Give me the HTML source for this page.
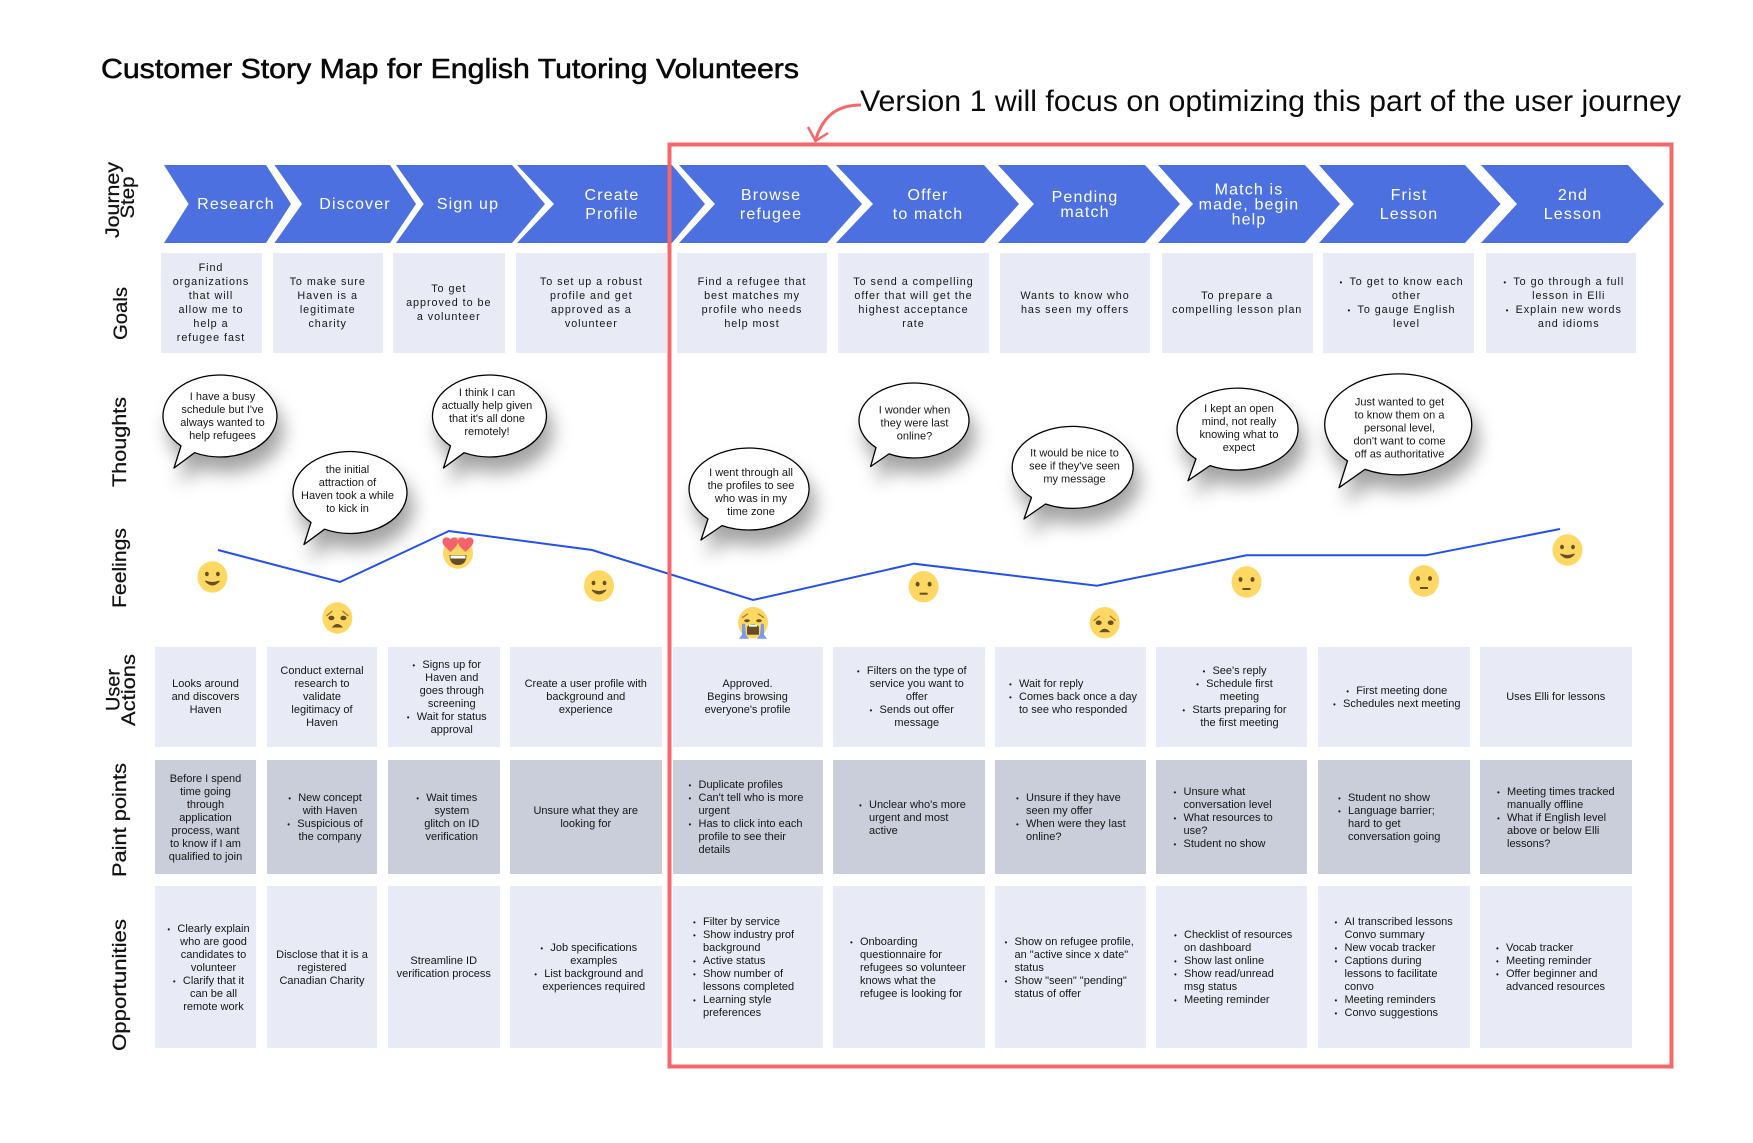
<!DOCTYPE html>
<html><head><meta charset="utf-8"><title>Customer Story Map</title>
<style>
html,body{margin:0;padding:0;background:#fff;width:1753px;height:1143px;overflow:hidden}
body{position:relative;font-family:"Liberation Sans",sans-serif;color:#161616}
svg{position:absolute;left:0;top:0}
.c{position:absolute;display:flex;align-items:center;justify-content:center;text-align:center;font-size:11px;line-height:13px;white-space:nowrap;box-sizing:border-box;padding-top:2px}
.goal{top:253px;height:100px;background:#e8eaf6;line-height:14px;letter-spacing:.95px;font-size:10.8px;padding-top:0}
.ua{top:647px;height:100px;background:#e8eaf6;padding-top:1px}
.pp{top:760px;height:114px;background:#cacdda}
.op{top:886px;height:162px;background:#e8eaf6}
.a1{left:155px;width:101px}.a2{left:267px;width:110px}.a3{left:388px;width:111.5px}.a4{left:510px;width:151.5px}.a5{left:672.5px;width:150px}.a6{left:833px;width:151.5px}.a7{left:995px;width:150.5px}.a8{left:1156px;width:151px}.a9{left:1318px;width:151.5px}.a10{left:1480px;width:151.5px}
.o{padding-left:16px}
.l{justify-content:flex-start;text-align:left}
u{text-decoration:none;position:relative}
u::before{content:"•";position:absolute;left:-10px;top:0;font-size:8px}
.b{position:absolute;transform:translate(-50%,-50%);text-align:center;font-size:11px;line-height:13px;white-space:nowrap}
.h{position:absolute;transform:translate(-50%,-50%);text-align:center;color:#fff;font-size:16px;letter-spacing:1.15px;white-space:nowrap}
</style></head><body>
<svg width="1753" height="1143" viewBox="0 0 1753 1143" xmlns="http://www.w3.org/2000/svg">
<defs>
<g id="smile"><ellipse rx="15" ry="15.7" fill="#ffd863"/><ellipse cx="-5.5" cy="-3" rx="1.9" ry="2.3" fill="#664e27"/><ellipse cx="5.5" cy="-3" rx="1.9" ry="2.3" fill="#664e27"/><path d="M-7 4Q0 12 7 4Q0 7 -7 4Z" fill="#664e27" stroke="#664e27"/></g>
<g id="neutral"><ellipse rx="15" ry="15.7" fill="#ffd863"/><ellipse cx="-6" cy="-2.5" rx="2" ry="2.4" fill="#664e27"/><ellipse cx="6" cy="-2.5" rx="2" ry="2.4" fill="#664e27"/><rect x="-4" y="6" width="8" height="2" fill="#664e27"/></g>
<g id="sad"><ellipse rx="15" ry="15.7" fill="#ffd863"/><ellipse cx="-6" cy="0" rx="3" ry="2.3" fill="#664e27"/><ellipse cx="6" cy="0" rx="3" ry="2.3" fill="#664e27"/><path d="M-11 -2L-5 -7M11 -2L5 -7" stroke="#a07a2c" stroke-width="1.3" fill="none"/><path d="M-4.5 9Q0 4 4.5 9Z" fill="#664e27" stroke="#664e27"/></g>
<g id="love"><ellipse rx="15" ry="15.7" fill="#ffd863"/><path d="M-7.5 -1C-14 -7 -15.5 -9 -15.5 -11.5C-15.5 -16 -10 -17 -7.5 -13.5C-5 -17 0 -16 0 -11.5C0 -9 -1 -7 -7.5 -1Z" fill="#f4626c"/><path d="M7.5 -1C1 -7 0 -9 0 -11.5C0 -16 5 -17 7.5 -13.5C10 -17 15.5 -16 15.5 -11.5C15.5 -9 14 -7 7.5 -1Z" fill="#f4626c"/><path d="M-8.5 2H8.5Q8.5 12 0 12Q-8.5 12 -8.5 2Z" fill="#664e27"/><rect x="-7.5" y="2.5" width="15" height="3" fill="#fff"/></g>
<g id="cry"><ellipse rx="15" ry="15.7" fill="#ffd863"/><ellipse cx="-6" cy="-2" rx="2.8" ry="1.5" fill="#664e27"/><ellipse cx="6" cy="-2" rx="2.8" ry="1.5" fill="#664e27"/><path d="M-11 -5L-5 -9M11 -5L5 -9" stroke="#a07a2c" stroke-width="1.2" fill="none"/><path d="M-6 12V4Q0 -1 6 4V12Z" fill="#664e27"/><rect x="-4" y="2" width="8" height="2" fill="#fff"/><path d="M-8 1H-11V12L-14 16H-4L-7 12Z M8 1H11V12L14 16H4L7 12Z" fill="#7c9ae8"/></g>
<filter id="sh" x="-30%" y="-30%" width="170%" height="190%"><feDropShadow dx="6" dy="15" stdDeviation="9" flood-color="#000" flood-opacity=".36"/></filter>
</defs>
<text x="101" y="78" font-family="Liberation Sans" font-size="28" fill="#0a0a0a" stroke="#0a0a0a" stroke-width=".55" textLength="698" lengthAdjust="spacingAndGlyphs">Customer Story Map for English Tutoring Volunteers</text>
<text x="860" y="111" font-family="Liberation Sans" font-size="30" fill="#0a0a0a" textLength="821" lengthAdjust="spacingAndGlyphs">Version 1 will focus on optimizing this part of the user journey</text>
<g fill="#4c70e0">
<polygon points="164,165 266,165 291,204 266,243 164,243 188.6,204"/>
<polygon points="274.4,165 390,165 416,204 390,243 274.4,243 302,204"/>
<polygon points="396,165 512,165 545,204 512,243 396,243 423.7,204"/>
<polygon points="517,165 672,165 705,204 672,243 517,243 554,204"/>
<polygon points="679,165 827,165 862,204 827,243 679,243 715,204"/>
<polygon points="836,165 984,165 1019,204 984,243 836,243 873,204"/>
<polygon points="998,165 1145,165 1180,204 1145,243 998,243 1034,204"/>
<polygon points="1158,165 1305,165 1340,204 1305,243 1158,243 1193,204"/>
<polygon points="1319,165 1465,165 1500.6,204 1465,243 1319,243 1354,204"/>
<polygon points="1481,165 1628,165 1664,204 1628,243 1481,243 1517,204"/>
</g>
<g font-family="Liberation Sans" font-size="19.5" fill="#111" stroke="#111" stroke-width=".25" text-anchor="middle">
<text transform="translate(119 200) rotate(-90)" textLength="76" lengthAdjust="spacingAndGlyphs">Journey</text>
<text transform="translate(134 197.5) rotate(-90)" textLength="42" lengthAdjust="spacingAndGlyphs">Step</text>
<text transform="translate(127 313.5) rotate(-90)" textLength="53" lengthAdjust="spacingAndGlyphs">Goals</text>
<text transform="translate(126 442) rotate(-90)" textLength="90" lengthAdjust="spacingAndGlyphs">Thoughts</text>
<text transform="translate(126 568) rotate(-90)" textLength="80" lengthAdjust="spacingAndGlyphs">Feelings</text>
<text transform="translate(119.5 690) rotate(-90)" textLength="42" lengthAdjust="spacingAndGlyphs">User</text>
<text transform="translate(135 690) rotate(-90)" textLength="72" lengthAdjust="spacingAndGlyphs">Actions</text>
<text transform="translate(126 820) rotate(-90)" textLength="114" lengthAdjust="spacingAndGlyphs">Paint points</text>
<text transform="translate(126 985) rotate(-90)" textLength="132" lengthAdjust="spacingAndGlyphs">Opportunities</text>
</g>
<g fill="#fff" stroke="#000" stroke-width="1.3" filter="url(#sh)" stroke-linejoin="round">
<path d="M194.6 452.7A57 41 0 1 0 181 445.9L174 468Z"/>
<path d="M324.6 529.2A57 41 0 1 0 311 522.4L304 544.5Z"/>
<path d="M464.1 452.7A57 41 0 1 0 450.5 445.9L443.5 468Z"/>
<path d="M722 525.6A60 41 0 1 0 708 518.9L701 540Z"/>
<path d="M889 453.9A55 37.5 0 1 0 876 447.6L870.6 466.5Z"/>
<path d="M1045.5 504A60.5 41 0 1 0 1031.5 497.4L1024 519Z"/>
<path d="M1210 465.6A60.5 41 0 1 0 1196 458.9L1188 480.7Z"/>
<path d="M1365 469.4A73.5 50.5 0 1 0 1347.5 460.9L1339 487.7Z"/>
</g>
<polyline points="218,550 340,582 449,531 592,550 753,600 914,563.7 1097,585.7 1246.5,555.3 1426,555.3 1560,529" fill="none" stroke="#2350e8" stroke-width="2"/>
<use href="#smile" x="212.4" y="577"/>
<use href="#sad" x="337.4" y="618"/>
<use href="#love" x="458" y="553"/>
<use href="#smile" x="599" y="586"/>
<use href="#cry" x="753" y="622.7"/>
<use href="#neutral" x="923.6" y="586.7"/>
<use href="#sad" x="1104.7" y="622.7"/>
<use href="#neutral" x="1246.5" y="582"/>
<use href="#neutral" x="1424" y="581"/>
<use href="#smile" x="1567.5" y="550"/>
</svg>

<div class="h" style="left:236px;top:205px">Research</div>
<div class="h" style="left:355px;top:205px">Discover</div>
<div class="h" style="left:468px;top:205px">Sign up</div>
<div class="h" style="left:612px;top:204.5px;line-height:19px">Create<br>Profile</div>
<div class="h" style="left:771px;top:204.5px;line-height:19px">Browse<br>refugee</div>
<div class="h" style="left:928px;top:204.5px;line-height:19px">Offer<br>to match</div>
<div class="h" style="left:1085px;top:205px;line-height:15px">Pending<br>match</div>
<div class="h" style="left:1249px;top:205px;line-height:15px">Match is<br>made, begin<br>help</div>
<div class="h" style="left:1409px;top:204.5px;line-height:19px">Frist<br>Lesson</div>
<div class="h" style="left:1573px;top:204.5px;line-height:19px">2nd<br>Lesson</div>

<div class="c goal" style="left:160.5px;width:101px"><div>Find<br>organizations<br>that will<br>allow me to<br>help a<br>refugee fast</div></div>
<div class="c goal" style="left:272.7px;width:110px"><div>To make sure<br>Haven is a<br>legitimate<br>charity</div></div>
<div class="c goal" style="left:393px;width:111.5px"><div>To get<br>approved to be<br>a volunteer</div></div>
<div class="c goal" style="left:515.7px;width:151.3px"><div>To set up a robust<br>profile and get<br>approved as a<br>volunteer</div></div>
<div class="c goal" style="left:677px;width:150px"><div>Find a refugee that<br>best matches my<br>profile who needs<br>help most</div></div>
<div class="c goal" style="left:838px;width:151px"><div>To send a compelling<br>offer that will get the<br>highest acceptance<br>rate</div></div>
<div class="c goal" style="left:1000px;width:150px"><div>Wants to know who<br>has seen my offers</div></div>
<div class="c goal" style="left:1161.7px;width:151px"><div>To prepare a<br>compelling lesson plan</div></div>
<div class="c goal o" style="left:1323px;width:151px"><div><u>To get to know each</u><br>other<br><u>To gauge English</u><br>level</div></div>
<div class="c goal o" style="left:1485.5px;width:150.5px"><div><u>To go through a full</u><br>lesson in Elli<br><u>Explain new words</u><br>and idioms</div></div>

<div class="b" style="left:222.5px;top:417px">I have a busy<br>schedule but I've<br>always wanted to<br>help refugees</div>
<div class="b" style="left:347.5px;top:490px">the initial<br>attraction of<br>Haven took a while<br>to kick in</div>
<div class="b" style="left:487px;top:412.5px">I think I can<br>actually help given<br>that it's all done<br>remotely!</div>
<div class="b" style="left:751px;top:492.5px">I went through all<br>the profiles to see<br>who was in my<br>time zone</div>
<div class="b" style="left:914.5px;top:424px">I wonder when<br>they were last<br>online?</div>
<div class="b" style="left:1074.5px;top:467px">It would be nice to<br>see if they've seen<br>my message</div>
<div class="b" style="left:1239px;top:428.5px">I kept an open<br>mind, not really<br>knowing what to<br>expect</div>
<div class="b" style="left:1399.5px;top:428.5px">Just wanted to get<br>to know them on a<br>personal level,<br>don't want to come<br>off as authoritative</div>

<div class="c ua a1"><div>Looks around<br>and discovers<br>Haven</div></div>
<div class="c ua a2"><div>Conduct external<br>research to<br>validate<br>legitimacy of<br>Haven</div></div>
<div class="c ua a3 o"><div><u>Signs up for</u><br>Haven and<br>goes through<br>screening<br><u>Wait for status</u><br>approval</div></div>
<div class="c ua a4"><div>Create a user profile with<br>background and<br>experience</div></div>
<div class="c ua a5"><div>Approved.<br>Begins browsing<br>everyone's profile</div></div>
<div class="c ua a6 o"><div><u>Filters on the type of</u><br>service you want to<br>offer<br><u>Sends out offer</u><br>message</div></div>
<div class="c ua a7 l" style="padding-left:24px"><div><u>Wait for reply</u><br><u>Comes back once a day</u><br>to see who responded</div></div>
<div class="c ua a8 o"><div><u>See's reply</u><br><u>Schedule first</u><br>meeting<br><u>Starts preparing for</u><br>the first meeting</div></div>
<div class="c ua a9 o"><div><u>First meeting done</u><br><u>Schedules next meeting</u></div></div>
<div class="c ua a10"><div>Uses Elli for lessons</div></div>

<div class="c pp a1"><div>Before I spend<br>time going<br>through<br>application<br>process, want<br>to know if I am<br>qualified to join</div></div>
<div class="c pp a2 o"><div><u>New concept</u><br>with Haven<br><u>Suspicious of</u><br>the company</div></div>
<div class="c pp a3 o"><div><u>Wait times</u><br>system<br>glitch on ID<br>verification</div></div>
<div class="c pp a4"><div>Unsure what they are<br>looking for</div></div>
<div class="c pp a5 l" style="padding-left:26px"><div><u>Duplicate profiles</u><br><u>Can't tell who is more</u><br>urgent<br><u>Has to click into each</u><br>profile to see their<br>details</div></div>
<div class="c pp a6 l" style="padding-left:36px"><div><u>Unclear who's more</u><br>urgent and most<br>active</div></div>
<div class="c pp a7 l" style="padding-left:31px"><div><u>Unsure if they have</u><br>seen my offer<br><u>When were they last</u><br>online?</div></div>
<div class="c pp a8 l" style="padding-left:27.5px"><div><u>Unsure what</u><br>conversation level<br><u>What resources to</u><br>use?<br><u>Student no show</u></div></div>
<div class="c pp a9 l" style="padding-left:30px"><div><u>Student no show</u><br><u>Language barrier;</u><br>hard to get<br>conversation going</div></div>
<div class="c pp a10 l" style="padding-left:27px"><div><u>Meeting times tracked</u><br>manually offline<br><u>What if English level</u><br>above or below Elli<br>lessons?</div></div>

<div class="c op a1 o"><div><u>Clearly explain</u><br>who are good<br>candidates to<br>volunteer<br><u>Clarify that it</u><br>can be all<br>remote work</div></div>
<div class="c op a2"><div>Disclose that it is a<br>registered<br>Canadian Charity</div></div>
<div class="c op a3"><div>Streamline ID<br>verification process</div></div>
<div class="c op a4 o"><div><u>Job specifications</u><br>examples<br><u>List background and</u><br>experiences required</div></div>
<div class="c op a5 l" style="padding-left:30.5px"><div><u>Filter by service</u><br><u>Show industry prof</u><br>background<br><u>Active status</u><br><u>Show number of</u><br>lessons completed<br><u>Learning style</u><br>preferences</div></div>
<div class="c op a6 l" style="padding-left:27px"><div><u>Onboarding</u><br>questionnaire for<br>refugees so volunteer<br>knows what the<br>refugee is looking for</div></div>
<div class="c op a7 l" style="padding-left:19.5px"><div><u>Show on refugee profile,</u><br>an "active since x date"<br>status<br><u>Show "seen" "pending"</u><br>status of offer</div></div>
<div class="c op a8 l" style="padding-left:28px"><div><u>Checklist of resources</u><br>on dashboard<br><u>Show last online</u><br><u>Show read/unread</u><br>msg status<br><u>Meeting reminder</u></div></div>
<div class="c op a9 l" style="padding-left:26.5px"><div><u>AI transcribed lessons</u><br>Convo summary<br><u>New vocab tracker</u><br><u>Captions during</u><br>lessons to facilitate<br>convo<br><u>Meeting reminders</u><br><u>Convo suggestions</u></div></div>
<div class="c op a10 l" style="padding-left:26px"><div><u>Vocab tracker</u><br><u>Meeting reminder</u><br><u>Offer beginner and</u><br>advanced resources</div></div>

<svg width="1753" height="1143" viewBox="0 0 1753 1143" xmlns="http://www.w3.org/2000/svg" style="pointer-events:none">
<rect x="669.5" y="144.5" width="1002" height="922" fill="none" stroke="#f4686c" stroke-width="4"/>
<path d="M861 105C840 105 824 113 815.5 140" fill="none" stroke="#f4686c" stroke-width="3"/>
<path d="M808 127L815.5 141L828 133" fill="none" stroke="#f4686c" stroke-width="2.5"/>
</svg>
</body></html>
